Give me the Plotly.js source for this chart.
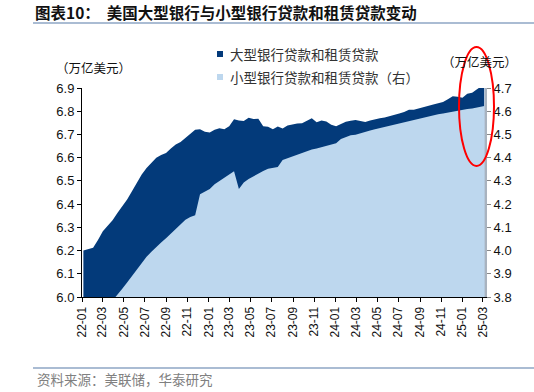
<!DOCTYPE html>
<html>
<head>
<meta charset="utf-8">
<script src="https://cdn.plot.ly/plotly-3.0.1.min.js"></script>
<style>html,body{margin:0;padding:0;background:#fff;}#chart{width:534px;height:392px;}</style>
</head>
<body>
<div id="chart"></div>
<script>
// Weekly-sampled (bi-weekly) observation dates
const dates = [
 "2022-01-05","2022-01-19","2022-02-02","2022-02-16","2022-03-02","2022-03-16","2022-03-30","2022-04-13","2022-04-27","2022-05-11",
 "2022-05-25","2022-06-08","2022-06-22","2022-07-06","2022-07-20","2022-08-03","2022-08-17","2022-08-31","2022-09-14","2022-09-28",
 "2022-10-12","2022-10-26","2022-11-09","2022-11-23","2022-12-07","2022-12-21","2023-01-04","2023-01-18","2023-02-01","2023-02-15",
 "2023-03-01","2023-03-15","2023-03-29","2023-04-12","2023-04-26","2023-05-10","2023-05-24","2023-06-07","2023-06-21","2023-07-05",
 "2023-07-19","2023-08-02","2023-08-16","2023-08-30","2023-09-13","2023-09-27","2023-10-11","2023-10-25","2023-11-08","2023-11-22",
 "2023-12-06","2023-12-20","2024-01-03","2024-01-17","2024-01-31","2024-02-14","2024-02-28","2024-03-13","2024-03-27","2024-04-10",
 "2024-04-24","2024-05-08","2024-05-22","2024-06-05","2024-06-19","2024-07-03","2024-07-17","2024-07-31","2024-08-14","2024-08-28",
 "2024-09-11","2024-09-25","2024-10-09","2024-10-23","2024-11-06","2024-11-20","2024-12-04","2024-12-18","2025-01-01","2025-01-15",
 "2025-01-29","2025-02-12","2025-02-26","2025-03-05"
];
// Large banks loans & leases (trillion USD, left axis)
const largeBanks = [
 6.200,6.205,6.212,6.245,6.283,6.307,6.330,6.362,6.390,6.420,
 6.455,6.490,6.528,6.555,6.577,6.600,6.612,6.620,6.640,6.657,
 6.668,6.684,6.700,6.720,6.722,6.712,6.708,6.720,6.727,6.722,
 6.735,6.765,6.760,6.758,6.772,6.766,6.768,6.735,6.733,6.722,
 6.734,6.726,6.738,6.744,6.747,6.748,6.760,6.770,6.752,6.760,
 6.756,6.742,6.735,6.745,6.755,6.759,6.762,6.758,6.754,6.760,
 6.766,6.770,6.773,6.778,6.783,6.790,6.797,6.806,6.806,6.812,
 6.820,6.826,6.829,6.834,6.840,6.852,6.864,6.862,6.858,6.875,
 6.880,6.895,6.910,6.915
];
// Small banks loans & leases (trillion USD, right axis)
const smallBanks = [
 3.620,3.650,3.680,3.710,3.740,3.760,3.785,3.806,3.835,3.862,
 3.890,3.922,3.948,3.973,3.995,4.017,4.035,4.053,4.072,4.093,
 4.114,4.133,4.145,4.152,4.243,4.253,4.265,4.285,4.300,4.315,
 4.330,4.342,4.265,4.293,4.308,4.320,4.333,4.343,4.352,4.356,
 4.360,4.390,4.398,4.406,4.414,4.421,4.429,4.435,4.440,4.446,
 4.450,4.455,4.462,4.480,4.490,4.497,4.499,4.506,4.512,4.517,
 4.522,4.527,4.533,4.537,4.541,4.547,4.554,4.558,4.562,4.567,
 4.573,4.578,4.583,4.587,4.590,4.594,4.597,4.602,4.608,4.610,
 4.612,4.616,4.620,4.622
];
const seriesNames = ["大型银行贷款和租赁贷款", "小型银行贷款和租赁贷款（右）"];
const leftTicks = [6.0,6.1,6.2,6.3,6.4,6.5,6.6,6.7,6.8,6.9];
const rightTicks = [3.8,3.9,4.0,4.1,4.2,4.3,4.4,4.5,4.6,4.7];
const titleText = "图表10：  美国大型银行与小型银行贷款和租赁贷款变动";
const unitText = "（万亿美元）";
const sourceText = "资料来源：美联储，华泰研究";

const DARK = "#033a7a", LIGHT = "#bdd7ee";
const W = 534, H = 392, L = 82, R = 485, T = 88, B = 297;
const px = x => (x - L) / (R - L);
const py = y => (B - y) / (B - T);
const CJK = "'Noto Sans CJK SC', sans-serif";
const NUM = "Arial, 'Liberation Sans', sans-serif";

const traces = [
 {x: dates, y: largeBanks, type: "scatter", mode: "lines", fill: "tozeroy",
  line: {width: 0, color: DARK}, fillcolor: DARK, name: seriesNames[0], yaxis: "y", hoverinfo: "skip"},
 {x: dates, y: smallBanks, type: "scatter", mode: "lines", fill: "tozeroy",
  line: {width: 0, color: LIGHT}, fillcolor: LIGHT, name: seriesNames[1], yaxis: "y2", hoverinfo: "skip"}
];

const layout = {
 width: W, height: H, paper_bgcolor: "#fff", plot_bgcolor: "#fff",
 margin: {l: L, r: W - R, t: T, b: H - B, pad: 0},
 showlegend: false,
 title: {text: "<b>" + titleText + "</b>", x: 35 / W, xanchor: "left", xref: "container",
   y: 1 - 14 / H, yanchor: "middle", yref: "container", font: {family: CJK, size: 15.5, color: "#111"}},
 xaxis: {type: "date", range: ["2022-01-01", "2025-03-07"], tick0: "2022-01-01", dtick: "M2",
   tickformat: "%y-%m", tickangle: -90, ticks: "outside", ticklen: 4, tickcolor: "#000",
   showline: true, linecolor: "#000", linewidth: 1, showgrid: false, zeroline: false,
   tickfont: {family: NUM, size: 12, color: "#111"}},
 yaxis: {range: [6.0, 6.9], tickvals: leftTicks, ticktext: leftTicks.map(v => v.toFixed(1)),
   ticks: "outside", ticklen: 4, tickcolor: "#000", showline: true, linecolor: "#000", linewidth: 1,
   showgrid: false, zeroline: false, tickfont: {family: NUM, size: 13, color: "#111"}},
 yaxis2: {range: [3.8, 4.7], overlaying: "y", side: "right", tickvals: rightTicks,
   ticktext: rightTicks.map(v => v.toFixed(1)), ticks: "outside", ticklen: 4, tickcolor: "#888",
   showline: true, linecolor: "#a9b3bf", linewidth: 2, showgrid: false, zeroline: false,
   tickfont: {family: NUM, size: 13, color: "#111"}},
 shapes: [
  {type: "line", xref: "paper", yref: "paper", x0: px(33), x1: px(534), y0: py(23), y1: py(23),
   line: {color: "#8ea6c4", width: 1.5}},
  {type: "line", xref: "paper", yref: "paper", x0: px(33), x1: px(534), y0: py(368), y1: py(368),
   line: {color: "#8ea6c4", width: 1.5}},
  {type: "rect", xref: "paper", yref: "paper", x0: px(217), x1: px(223), y0: py(57), y1: py(51),
   fillcolor: DARK, line: {width: 0}},
  {type: "rect", xref: "paper", yref: "paper", x0: px(217), x1: px(223), y0: py(80), y1: py(74),
   fillcolor: LIGHT, line: {width: 0}},
  {type: "circle", xref: "paper", yref: "paper", x0: px(459), x1: px(494), y0: py(166), y1: py(47),
   line: {color: "#ff0000", width: 2}}
 ],
 annotations: [
  {text: seriesNames[0], xref: "paper", yref: "paper", x: px(228), y: py(54), xanchor: "left", yanchor: "middle",
   showarrow: false, font: {family: CJK, size: 13.5, color: "#333"}},
  {text: seriesNames[1], xref: "paper", yref: "paper", x: px(228), y: py(77), xanchor: "left", yanchor: "middle",
   showarrow: false, font: {family: CJK, size: 13.5, color: "#333"}},
  {text: unitText, xref: "paper", yref: "paper", x: px(93), y: py(67), xanchor: "center", yanchor: "middle",
   showarrow: false, font: {family: CJK, size: 12.5, color: "#111"}},
  {text: unitText, xref: "paper", yref: "paper", x: px(479), y: py(61), xanchor: "center", yanchor: "middle",
   showarrow: false, font: {family: CJK, size: 12.5, color: "#111"}},
  {text: sourceText, xref: "paper", yref: "paper", x: px(35), y: py(379), xanchor: "left", yanchor: "middle",
   showarrow: false, font: {family: CJK, size: 13.5, color: "#808080"}}
 ]
};

Plotly.newPlot("chart", traces, layout, {displayModeBar: false, staticPlot: true});
</script>
</body>
</html>
